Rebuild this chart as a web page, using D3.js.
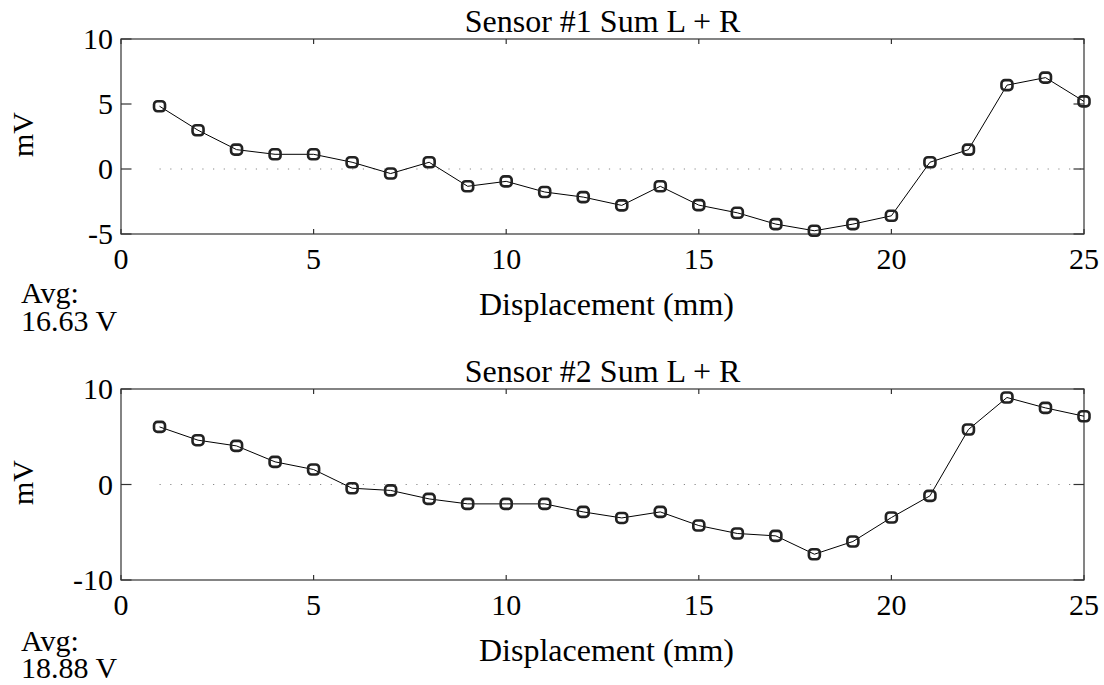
<!DOCTYPE html>
<html>
<head>
<meta charset="utf-8">
<script src="https://cdn.jsdelivr.net/npm/d3@7"></script>
<style>
  html, body { margin: 0; padding: 0; background: #fff; }
  svg { display: block; }
  text { font-family: "Liberation Serif", "Times New Roman", serif; fill: #000; }
</style>
</head>
<body>
<svg id="chart" width="1104" height="685"></svg>
<script>
// Displacement positions (mm)
const displacement = d3.range(1, 26);

// Sensor #1 sum of left + right channels (mV)
const sensor1 = [4.83, 2.98, 1.49, 1.13, 1.13, 0.52, -0.35, 0.52, -1.33, -0.95,
                 -1.77, -2.16, -2.80, -1.33, -2.78, -3.37, -4.24, -4.75, -4.24, -3.60,
                 0.52, 1.49, 6.45, 7.03, 5.20];

// Sensor #2 sum of left + right channels (mV)
const sensor2 = [6.03, 4.64, 4.04, 2.37, 1.57, -0.39, -0.62, -1.51, -2.03, -2.03,
                 -2.03, -2.87, -3.50, -2.87, -4.30, -5.13, -5.38, -7.30, -5.97, -3.46,
                 -1.19, 5.76, 9.11, 8.02, 7.15];

const titles = ["Sensor #1 Sum L + R", "Sensor #2 Sum L + R"];
const averages = ["16.63 V", "18.88 V"];
const xTicks = [0, 5, 10, 15, 20, 25];
const yDomains = [[-5, 10], [-10, 10]];
const yTicks = [[-5, 0, 5, 10], [-10, 0, 10]];

const svg = d3.select("#chart");
const left = 121, right = 1084;
const panels = [
  { top: 39, bottom: 234, values: sensor1, avgY: [303, 331] },
  { top: 389, bottom: 580, values: sensor2, avgY: [651, 678] }
];

panels.forEach((p, i) => {
  const x = d3.scaleLinear().domain([0, 25]).range([left, right]);
  const y = d3.scaleLinear().domain(yDomains[i]).range([p.bottom, p.top]);
  const g = svg.append("g");

  // zero reference line
  g.append("line")
    .attr("x1", x(1)).attr("x2", x(25))
    .attr("y1", y(0)).attr("y2", y(0))
    .attr("stroke", "#888").attr("stroke-width", 1)
    .attr("stroke-dasharray", "1.2,9.5");

  // frame
  g.append("rect")
    .attr("x", left).attr("y", p.top)
    .attr("width", right - left).attr("height", p.bottom - p.top)
    .attr("fill", "none").attr("stroke", "#333").attr("stroke-width", 1.2);

  // inward ticks on all four sides
  const ticks = g.append("g").attr("stroke", "#333").attr("stroke-width", 1.2);
  xTicks.forEach(t => {
    ticks.append("line").attr("x1", x(t)).attr("x2", x(t)).attr("y1", p.bottom).attr("y2", p.bottom - 5);
    ticks.append("line").attr("x1", x(t)).attr("x2", x(t)).attr("y1", p.top).attr("y2", p.top + 5);
  });
  yTicks[i].forEach(t => {
    ticks.append("line").attr("x1", left).attr("x2", left + 10.5).attr("y1", y(t)).attr("y2", y(t));
    ticks.append("line").attr("x1", right).attr("x2", right - 10.5).attr("y1", y(t)).attr("y2", y(t));
  });

  // tick labels
  g.selectAll(".xt").data(xTicks).enter().append("text")
    .attr("x", d => x(d)).attr("y", p.bottom + 34.5)
    .attr("text-anchor", "middle").attr("font-size", 30)
    .text(d => d);
  g.selectAll(".yt").data(yTicks[i]).enter().append("text")
    .attr("x", left - 8).attr("y", d => y(d)).attr("dy", "0.34em")
    .attr("text-anchor", "end").attr("font-size", 30)
    .text(d => d);

  // title and axis labels
  g.append("text").attr("x", (left + right) / 2).attr("y", p.top - 7.5)
    .attr("text-anchor", "middle").attr("font-size", 32).text(titles[i]);
  g.append("text").attr("x", (left + right) / 2 + 4).attr("y", p.bottom + 80.5)
    .attr("text-anchor", "middle").attr("font-size", 32).text("Displacement (mm)");
  g.append("text")
    .attr("transform", `translate(33,${(p.top + p.bottom) / 2 - 2}) rotate(-90)`)
    .attr("text-anchor", "middle").attr("font-size", 30).text("mV");

  // average annotation
  g.append("text").attr("x", 21).attr("y", p.avgY[0]).attr("font-size", 30).text("Avg:");
  g.append("text").attr("x", 21).attr("y", p.avgY[1]).attr("font-size", 30).text(averages[i]);

  // data line and markers
  const data = displacement.map((d, k) => [d, p.values[k]]);
  g.append("path").datum(data)
    .attr("fill", "none").attr("stroke", "#000").attr("stroke-width", 1)
    .attr("d", d3.line().x(d => x(d[0])).y(d => y(d[1])));
  g.selectAll(".m").data(data).enter().append("rect")
    .attr("x", d => x(d[0]) - 5.5).attr("y", d => y(d[1]) - 5)
    .attr("width", 11).attr("height", 10).attr("rx", 3.4)
    .attr("fill", "none").attr("stroke", "#222").attr("stroke-width", 2.6);
});
</script>
</body>
</html>
